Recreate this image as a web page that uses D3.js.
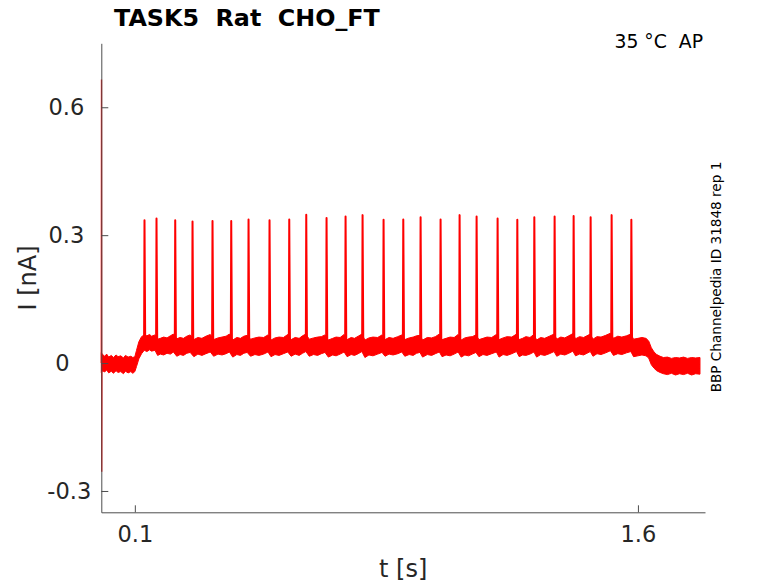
<!DOCTYPE html>
<html>
<head>
<meta charset="utf-8">
<script src="https://cdn.jsdelivr.net/npm/d3@7"></script>
<style>
  body { margin: 0; background: #fff; }
  svg { display: block; }
  text { font-family: "DejaVu Sans", sans-serif; fill: #262626; }
</style>
</head>
<body>
<div id="chart"></div>
<script>
// ---- data ----
const xTicks = [0.1, 1.6];
const yTicks = [-0.3, 0, 0.3, 0.6];

// stimulus-onset transient at t = 0
const transientT = [0.0, 0.0006, 0.0012, 0.0018, 0.0024];
const transientI = [0.0, 0.665, -0.255, 0.012, 0.0];

// spike times [s] and peak currents [nA]
const spikeT = [0.1288, 0.1646, 0.2204, 0.2720, 0.3316, 0.3874, 0.4390, 0.5016, 0.5604,
  0.6111, 0.6716, 0.7283, 0.7790, 0.8416, 0.9004, 0.9520, 1.0116, 1.0683, 1.1190,
  1.1816, 1.2404, 1.2911, 1.3516, 1.4083, 1.4590, 1.5216, 1.5804];
const spikePeak = [0.335, 0.339, 0.335, 0.332, 0.333, 0.333, 0.337, 0.335, 0.337,
  0.348, 0.340, 0.344, 0.347, 0.336, 0.337, 0.342, 0.337, 0.347, 0.344,
  0.339, 0.336, 0.342, 0.344, 0.345, 0.342, 0.347, 0.336];

// noisy baseline band: time, upper and lower edge [nA]
const bandT = [0.000, 0.004, 0.010, 0.016, 0.022, 0.030, 0.036, 0.044, 0.050, 0.058, 0.066, 0.072,
  0.080, 0.088, 0.094, 0.100, 0.105, 0.112, 0.120, 0.128, 0.136, 0.144, 0.150, 0.160, 0.168, 0.176,
  0.186, 0.196, 0.206, 0.215, 0.225, 0.235, 0.245, 0.255, 0.265, 0.276, 0.288, 0.300, 0.312, 0.325,
  0.335, 0.348, 0.360, 0.372, 0.382, 0.392, 0.404, 0.415, 0.425, 0.435, 0.445, 0.458, 0.470, 0.484,
  0.497, 0.506, 0.518, 0.530, 0.543, 0.556, 0.566, 0.578, 0.590, 0.600, 0.610, 0.620, 0.633, 0.645,
  0.656, 0.667, 0.677, 0.690, 0.700, 0.712, 0.724, 0.733, 0.745, 0.755, 0.766, 0.777, 0.786, 0.798,
  0.810, 0.824, 0.837, 0.846, 0.858, 0.870, 0.884, 0.896, 0.905, 0.918, 0.930, 0.940, 0.950, 0.958,
  0.972, 0.985, 0.996, 1.008, 1.016, 1.028, 1.040, 1.052, 1.064, 1.073, 1.084, 1.095, 1.106, 1.117,
  1.126, 1.138, 1.150, 1.164, 1.178, 1.186, 1.198, 1.210, 1.224, 1.238, 1.246, 1.256, 1.266, 1.278,
  1.290, 1.298, 1.310, 1.322, 1.336, 1.350, 1.358, 1.370, 1.382, 1.394, 1.406, 1.414, 1.426, 1.438,
  1.448, 1.458, 1.466, 1.478, 1.490, 1.504, 1.518, 1.527, 1.540, 1.552, 1.566, 1.579, 1.587, 1.600,
  1.612, 1.624, 1.632, 1.640, 1.648, 1.656, 1.666, 1.676, 1.688, 1.700, 1.712, 1.724, 1.736, 1.748,
  1.760, 1.772, 1.785];
const bandHi = [0.024, 0.020, 0.016, 0.021, 0.014, 0.018, 0.013, 0.019, 0.015, 0.017, 0.012, 0.018,
  0.014, 0.016, 0.013, 0.015, 0.030, 0.050, 0.062, 0.066, 0.064, 0.067, 0.063, 0.066, 0.056, 0.058,
  0.061, 0.059, 0.064, 0.068, 0.057, 0.060, 0.058, 0.063, 0.066, 0.055, 0.060, 0.058, 0.063, 0.067,
  0.055, 0.059, 0.061, 0.063, 0.068, 0.054, 0.060, 0.058, 0.063, 0.065, 0.056, 0.059, 0.061, 0.060,
  0.066, 0.054, 0.059, 0.061, 0.060, 0.067, 0.055, 0.060, 0.058, 0.064, 0.068, 0.056, 0.059, 0.061,
  0.062, 0.066, 0.054, 0.058, 0.061, 0.060, 0.067, 0.055, 0.060, 0.058, 0.063, 0.068, 0.054, 0.059,
  0.061, 0.060, 0.066, 0.055, 0.060, 0.058, 0.062, 0.066, 0.055, 0.059, 0.061, 0.064, 0.065, 0.054,
  0.060, 0.059, 0.062, 0.068, 0.055, 0.058, 0.061, 0.060, 0.067, 0.054, 0.059, 0.061, 0.062, 0.066,
  0.055, 0.058, 0.061, 0.060, 0.067, 0.055, 0.059, 0.062, 0.061, 0.068, 0.055, 0.058, 0.062, 0.060,
  0.067, 0.054, 0.060, 0.058, 0.063, 0.068, 0.056, 0.061, 0.059, 0.064, 0.069, 0.057, 0.062, 0.060,
  0.064, 0.068, 0.056, 0.062, 0.061, 0.065, 0.070, 0.058, 0.063, 0.061, 0.064, 0.068, 0.056, 0.058,
  0.060, 0.058, 0.052, 0.036, 0.026, 0.020, 0.016, 0.013, 0.014, 0.011, 0.013, 0.012, 0.014, 0.011,
  0.013, 0.012, 0.013];
const bandLo = [-0.022, -0.018, -0.021, -0.016, -0.023, -0.019, -0.024, -0.018, -0.022, -0.020, -0.025, -0.019,
  -0.023, -0.020, -0.024, -0.020, -0.008, 0.010, 0.022, 0.030, 0.027, 0.031, 0.028, 0.030, 0.018, 0.021,
  0.019, 0.023, 0.021, 0.026, 0.016, 0.020, 0.018, 0.023, 0.025, 0.015, 0.021, 0.018, 0.022, 0.026,
  0.016, 0.021, 0.019, 0.022, 0.026, 0.014, 0.020, 0.018, 0.023, 0.025, 0.016, 0.020, 0.018, 0.021,
  0.026, 0.015, 0.020, 0.018, 0.022, 0.026, 0.016, 0.021, 0.018, 0.023, 0.027, 0.016, 0.020, 0.018,
  0.022, 0.025, 0.014, 0.019, 0.017, 0.021, 0.026, 0.015, 0.020, 0.018, 0.022, 0.027, 0.013, 0.019,
  0.017, 0.021, 0.025, 0.016, 0.021, 0.019, 0.022, 0.026, 0.016, 0.020, 0.018, 0.023, 0.025, 0.014,
  0.020, 0.018, 0.022, 0.026, 0.015, 0.019, 0.017, 0.021, 0.026, 0.014, 0.019, 0.017, 0.021, 0.025,
  0.015, 0.020, 0.018, 0.022, 0.026, 0.014, 0.020, 0.018, 0.022, 0.027, 0.015, 0.019, 0.018, 0.021,
  0.026, 0.014, 0.020, 0.018, 0.022, 0.027, 0.016, 0.021, 0.019, 0.023, 0.028, 0.017, 0.021, 0.019,
  0.023, 0.027, 0.016, 0.022, 0.020, 0.024, 0.029, 0.018, 0.022, 0.020, 0.024, 0.027, 0.015, 0.017,
  0.019, 0.017, 0.012, -0.004, -0.012, -0.018, -0.022, -0.025, -0.027, -0.024, -0.028, -0.025, -0.027, -0.024,
  -0.028, -0.025, -0.026];

// ---- layout ----
const width = 778, height = 583;
const margin = { left: 101.3, right: 73, top: 43.3, bottom: 70.7 };

const svg = d3.select("#chart").append("svg")
  .attr("width", width)
  .attr("height", height);

const x = d3.scaleLinear().domain([0, 1.8]).range([margin.left, width - margin.right]);
const y = d3.scaleLinear().domain([-0.35, 0.75]).range([height - margin.bottom, margin.top]);

const band = bandT.map((t, i) => ({ t: t, hi: bandHi[i], lo: bandLo[i] }));
const red = "#ff0000";

svg.append("path")
  .datum(band)
  .attr("fill", red)
  .attr("stroke", red)
  .attr("stroke-width", 1)
  .attr("d", d3.area().x(d => x(d.t)).y0(d => y(d.lo)).y1(d => y(d.hi)));

// spikes: foot on the band, sharp peak
const line = d3.line().x(d => x(d[0])).y(d => y(d[1]));
const spikeG = svg.append("g")
  .attr("fill", "none")
  .attr("stroke", red)
  .attr("stroke-width", 2)
  .attr("stroke-linejoin", "round");
spikeT.forEach((t, i) => {
  spikeG.append("path")
    .attr("d", line([[t - 0.0012, 0.058], [t, spikePeak[i]], [t + 0.0022, 0.035]]));
});

svg.append("path")
  .attr("fill", "none")
  .attr("stroke", red)
  .attr("stroke-width", 1.3)
  .attr("d", line(transientT.map((t, i) => [t, transientI[i]])));

// ---- axes ----
const axisColor = "#4d4d4d";
const xAxis = svg.append("g")
  .attr("transform", `translate(0,${height - margin.bottom})`)
  .call(d3.axisBottom(x).tickValues(xTicks).tickSizeInner(-7).tickSizeOuter(0).tickPadding(14)
    .tickFormat(d => String(d)));
const yAxis = svg.append("g")
  .attr("transform", `translate(${margin.left},0)`)
  .call(d3.axisLeft(y).tickValues(yTicks).tickSizeInner(-7).tickSizeOuter(0).tickPadding(16)
    .tickFormat(d => String(d)));

[xAxis, yAxis].forEach(g => {
  g.select(".domain").attr("stroke", axisColor);
  g.selectAll(".tick line").attr("stroke", axisColor);
  g.selectAll(".tick text")
    .attr("fill", "#262626")
    .style("font-family", "DejaVu Sans, sans-serif")
    .style("font-size", "22.5px");
});
// the y labels in the original sit centred rather than flush right
yAxis.selectAll(".tick text")
  .attr("text-anchor", "middle")
  .attr("x", d => d === 0 ? -39 : (d < 0 ? -32 : -35));

// ---- labels ----
svg.append("text")
  .attr("x", (x(0) + x(1.8)) / 2)
  .attr("y", 577)
  .attr("text-anchor", "middle")
  .style("font-size", "24px")
  .text("t [s]");

svg.append("text")
  .attr("transform", "translate(36,278) rotate(-90)")
  .attr("text-anchor", "middle")
  .style("font-size", "24px")
  .text("I [nA]");

svg.append("text")
  .attr("x", 114)
  .attr("y", 26)
  .style("font-size", "23.8px")
  .style("font-weight", "bold")
  .style("fill", "#000")
  .attr("xml:space", "preserve")
  .text("TASK5  Rat  CHO_FT");

svg.append("text")
  .attr("x", 703)
  .attr("y", 48)
  .attr("text-anchor", "end")
  .style("font-size", "18.8px")
  .style("fill", "#000")
  .attr("xml:space", "preserve")
  .text("35 °C  AP");

svg.append("text")
  .attr("transform", "translate(721,277) rotate(-90)")
  .attr("text-anchor", "middle")
  .style("font-size", "13.6px")
  .style("fill", "#000")
  .text("BBP Channelpedia ID 31848 rep 1");
</script>
</body>
</html>
